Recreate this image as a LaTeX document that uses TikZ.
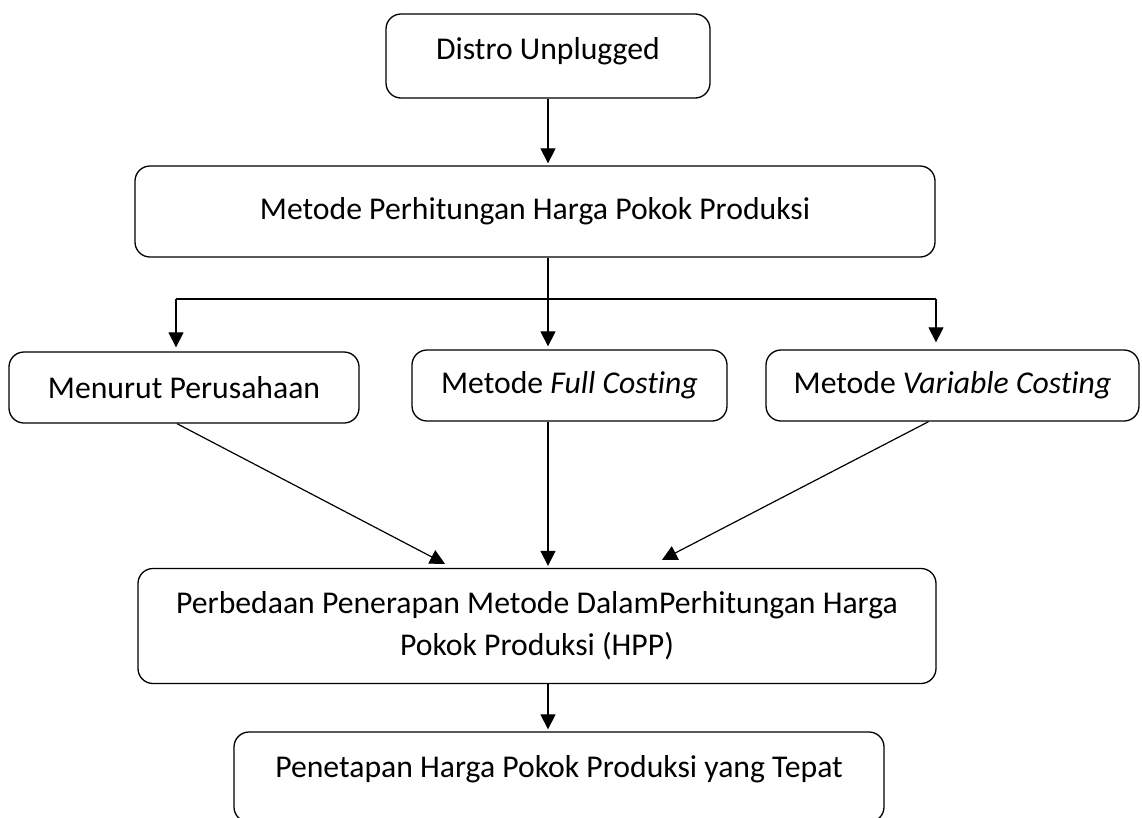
\documentclass[tikz,border=0pt]{standalone}
\usepackage{fontspec}
\setmainfont{Carlito}[Ligatures=NoCommon]
\usetikzlibrary{arrows.meta,positioning}

\tikzset{
	blok/.style={draw, rounded corners=15pt, line width=1.3pt, align=center, inner sep=0pt,
		font=\fontsize{31.7}{42}\selectfont},
	garis/.style={line width=1.2pt},
	panah/.style={garis, -{Triangle[width=15pt,length=15pt]}},
}

\begin{document}
\begin{tikzpicture}[x=1pt,y=-1pt]
		\useasboundingbox (0,0) rectangle (1142,817);
		\clip (0,0) rectangle (1142,817);
		
		\node[blok, minimum width=324, minimum height=84, text depth=16pt] at (548,56) (distro) {Distro Unplugged};
		\node[blok, minimum width=800, minimum height=91] at (535,211.5) (metode) {Metode Perhitungan Harga Pokok Produksi};
		\node[blok, minimum width=350, minimum height=71] at (184,387.5) (perusahaan) {Menurut Perusahaan};
		\node[blok, minimum width=315, minimum height=71] at (569.5,385.5) (full) {Metode \textit{Full Costing}};
		\node[blok, minimum width=373, minimum height=71] at (952.5,385.5) (variable) {Metode \textit{Variable Costing}};
		\node[blok, minimum width=798, minimum height=115] at (537,626) (hpp) {Perbedaan Penerapan Metode DalamPerhitungan Harga\\Pokok Produksi (HPP)};
		\node[blok, minimum width=650, minimum height=90, text depth=22pt] at (559,777) (tepat) {Penetapan Harga Pokok Produksi yang Tepat};
		
		\coordinate (cabang) at (548,299);
		\coordinate (kiri) at (176,299);
		\coordinate (kanan) at (936,299);
		
		\draw[panah, shorten >=2pt] (distro.south -| cabang) -- (cabang |- metode.north);
		\draw[garis] (cabang |- metode.south) -- (cabang);
		\draw[garis] (kiri) -- (kanan);
		\draw[panah, shorten >=4pt] (kiri) -- (kiri |- perusahaan.north);
		\draw[panah, shorten >=3pt] (cabang) -- (cabang |- full.north);
		\draw[panah, shorten >=7pt] (kanan) -- (kanan |- variable.north);
		
		\draw[panah] ([xshift=-7pt]perusahaan.south) -- ([xshift=-92pt,yshift=4pt]hpp.north);
		\draw[panah, shorten >=2pt] (cabang |- full.south) -- (cabang |- hpp.north);
		\draw[panah] ([xshift=-24pt]variable.south) -- ([xshift=125pt,yshift=8pt]hpp.north);
		\draw[panah, shorten >=2pt] (cabang |- hpp.south) -- (cabang |- tepat.north);
	\end{tikzpicture}
\end{document}
